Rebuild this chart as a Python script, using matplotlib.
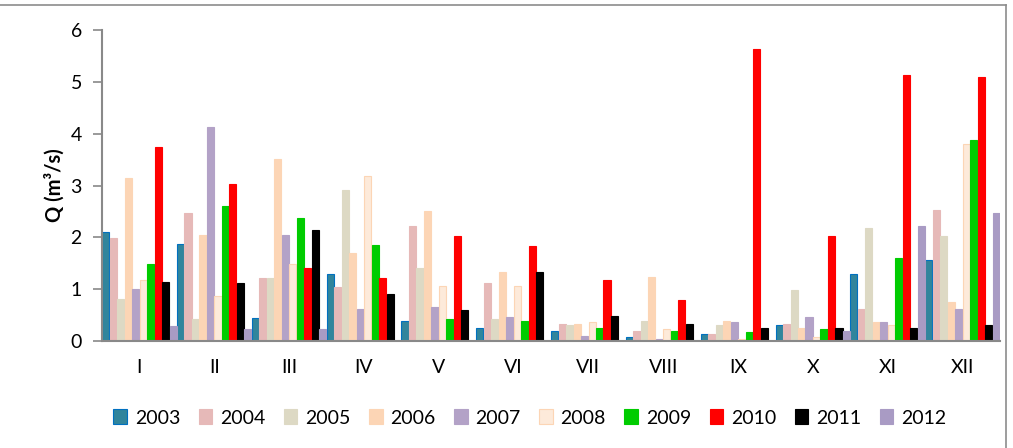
import numpy as np
import matplotlib.pyplot as plt
from matplotlib.patches import Patch
from matplotlib.lines import Line2D

months = ['I', 'II', 'III', 'IV', 'V', 'VI', 'VII', 'VIII', 'IX', 'X', 'XI', 'XII']
years = ['2003', '2004', '2005', '2006', '2007', '2008', '2009', '2010', '2011', '2012']

q2003 = [2.11, 1.88, 0.45, 1.30, 0.39, 0.26, 0.20, 0.07, 0.14, 0.30, 1.30, 1.56]
q2004 = [1.98, 2.47, 1.21, 1.04, 2.21, 1.11, 0.33, 0.20, 0.14, 0.33, 0.62, 2.53]
q2005 = [0.81, 0.42, 1.21, 2.92, 1.40, 0.42, 0.30, 0.39, 0.30, 0.98, 2.18, 2.02]
q2006 = [3.15, 2.05, 3.51, 1.69, 2.51, 1.34, 0.33, 1.24, 0.39, 0.26, 0.36, 0.75]
q2007 = [1.00, 4.13, 2.05, 0.62, 0.66, 0.46, 0.10, 0.04, 0.36, 0.46, 0.36, 0.62]
q2008 = [1.17, 0.87, 1.49, 3.18, 1.07, 1.07, 0.36, 0.23, 0.04, 0.07, 0.30, 3.80]
q2009 = [1.49, 2.60, 2.37, 1.85, 0.42, 0.39, 0.26, 0.20, 0.17, 0.23, 1.60, 3.87]
q2010 = [3.74, 3.02, 1.40, 1.21, 2.02, 1.83, 1.17, 0.79, 5.63, 2.02, 5.14, 5.10]
q2011 = [1.13, 1.11, 2.15, 0.91, 0.59, 1.34, 0.49, 0.33, 0.26, 0.26, 0.26, 0.30]
q2012 = [0.29, 0.23, 0.23, 0.0, 0.0, 0.0, 0.0, 0.0, 0.0, 0.20, 2.21, 2.47]

series = [q2003, q2004, q2005, q2006, q2007, q2008, q2009, q2010, q2011, q2012]
fills = ['#31859C', '#E6B9B8', '#DDD9C4', '#FCD5B5', '#B3A2C7',
         '#FDEADA', '#00CC00', '#FF0000', '#000000', '#A99BC4']
edges = ['#0070C0', '#E6B9B8', '#DDD9C4', '#FCD5B5', '#B3A2C7',
         '#FCD5B5', '#00CC00', '#FF0000', '#000000', '#A99BC4']

plt.rcParams['font.family'] = ['Lato', 'DejaVu Sans']

fig = plt.figure(figsize=(10.13, 4.48), dpi=100)
ax = fig.add_axes([0.1007, 0.2388, 0.8863, 0.6942])

x = np.arange(len(months))
w = 0.1
for i, (vals, fc, ec) in enumerate(zip(series, fills, edges)):
    ax.bar(x + (i - 4.5) * w, vals, width=w * 0.95, color=fc,
           edgecolor=ec, linewidth=0.8, label=years[i])

ax.set_xlim(-0.5, 11.5)
ax.set_ylim(0, 6)
ax.set_yticks(range(7))
ax.set_xticks(x)
ax.set_xticklabels(months)
ax.tick_params(axis='x', length=0, labelsize=14, pad=13)
ax.tick_params(axis='y', length=6.5, width=1.2, color='#898989',
               labelsize=14, pad=8)
for s in ['top', 'right']:
    ax.spines[s].set_visible(False)
for s in ['left', 'bottom']:
    ax.spines[s].set_color('#898989')
    ax.spines[s].set_linewidth(1.5)
ax.set_ylabel('Q (m³/s)', fontsize=14.5, fontweight='bold', labelpad=4)

handles = [Patch(facecolor=fc, edgecolor=ec, linewidth=0.8)
           for fc, ec in zip(fills, edges)]
fig.legend(handles, years, loc='center', bbox_to_anchor=(0.523, 0.067),
           ncol=10, frameon=False, fontsize=14, handlelength=0.7,
           handleheight=0.8, handletextpad=0.4, columnspacing=0.95)

# chart frame (top and right edges visible)
fig.add_artist(Line2D([0, 0.993], [0.989, 0.989], transform=fig.transFigure,
                      color='#8C8C8C', linewidth=1.2))
fig.add_artist(Line2D([0.993, 0.993], [0.0, 0.989], transform=fig.transFigure,
                      color='#8C8C8C', linewidth=1.2))

fig.savefig('out.png', dpi=100)
